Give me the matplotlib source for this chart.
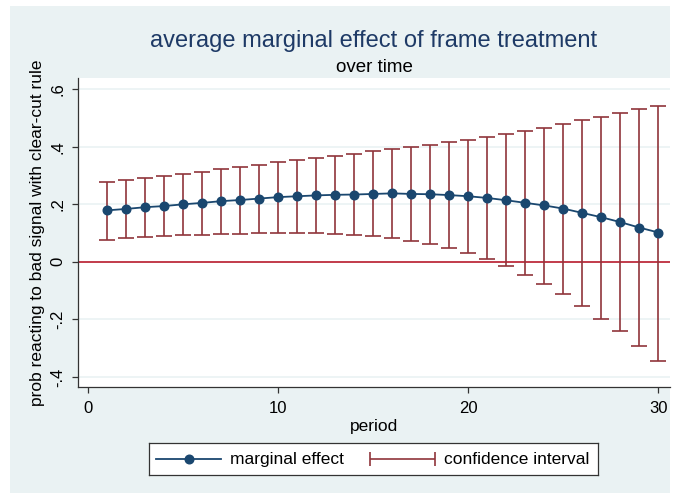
import numpy as np
import matplotlib
matplotlib.use("Agg")
import matplotlib.pyplot as plt
import matplotlib.patches as patches
from matplotlib.ticker import FuncFormatter

plt.rcParams['font.family'] = ['Liberation Sans', 'DejaVu Sans']

# data
period = list(range(1, 31))
effect = [0.179, 0.184, 0.190, 0.194, 0.200, 0.205, 0.211, 0.215, 0.220, 0.225,
          0.228, 0.231, 0.233, 0.234, 0.236, 0.238, 0.236, 0.235, 0.232, 0.228,
          0.222, 0.214, 0.205, 0.196, 0.185, 0.170, 0.155, 0.138, 0.119, 0.102]
ci_upper = [0.278, 0.286, 0.293, 0.299, 0.307, 0.314, 0.322, 0.330, 0.337, 0.346,
            0.355, 0.361, 0.369, 0.376, 0.385, 0.391, 0.400, 0.407, 0.416, 0.423,
            0.434, 0.444, 0.455, 0.466, 0.479, 0.492, 0.505, 0.519, 0.531, 0.543]
ci_lower = [0.077, 0.082, 0.085, 0.090, 0.092, 0.095, 0.097, 0.098, 0.100, 0.100,
            0.102, 0.100, 0.098, 0.095, 0.090, 0.082, 0.073, 0.062, 0.048, 0.031,
            0.009, -0.015, -0.044, -0.076, -0.111, -0.153, -0.197, -0.242, -0.293, -0.344]
xticks = [0, 10, 20, 30]
yticks = [-0.4, -0.2, 0, 0.2, 0.4, 0.6]

navy = '#1A476F'
maroon = '#90353B'
bluish = '#EAF2F3'

W, H = 675, 494
fig = plt.figure(figsize=(W / 100, H / 100), dpi=100)
fig.patch.set_facecolor('white')
fig.patches.append(patches.Rectangle((10 / W, 1 / H), 660 / W, 487 / H,
                                     transform=fig.transFigure, facecolor=bluish,
                                     edgecolor='none', zorder=-10))

ax = fig.add_axes([77.5 / W, 1 - 387 / H, (670 - 77.5) / W, (387 - 78) / H])
ax.set_facecolor('white')

period = np.array(period)
effect = np.array(effect)
lo = effect - np.array(ci_lower)
hi = np.array(ci_upper) - effect

ax.axhline(0, color='#C23B4B', lw=1.4, zorder=1)
ax.errorbar(period, effect, yerr=[lo, hi], fmt='none', ecolor=maroon,
            elinewidth=1.2, capsize=6, capthick=1.2, zorder=2)
ax.plot(period, effect, color=navy, lw=1.3, marker='o', markersize=6.2,
        markerfacecolor=navy, markeredgecolor=navy, zorder=3)

ax.set_xlim(-0.57, 30.61)
ax.set_ylim(-0.435, 0.639)
ax.set_xticks(xticks)
ax.set_yticks(yticks)

def fmt(v, pos):
    if abs(v) < 1e-9:
        return '0'
    s = ('%.1f' % v).replace('0.', '.')
    return s

ax.yaxis.set_major_formatter(FuncFormatter(fmt))
ax.grid(axis='y', color=bluish, lw=1.2, zorder=0)
ax.set_axisbelow(True)
for side in ['top', 'right']:
    ax.spines[side].set_visible(False)
for side in ['left', 'bottom']:
    ax.spines[side].set_color('#333333')
    ax.spines[side].set_linewidth(0.9)
ax.tick_params(axis='both', length=4, width=0.9, color='#333333', labelsize=12)
ax.tick_params(axis='x', pad=6)
ax.tick_params(axis='y', pad=5)
for lab in ax.get_yticklabels():
    lab.set_rotation(90)
    lab.set_va('center')

ax.set_xlabel('period', fontsize=12.5, labelpad=2)
ax.set_ylabel('prob reacting to bad signal with clear-cut rule', fontsize=12.5, labelpad=3.5)

fig.text(374 / W, 1 - 46.7 / H, 'average marginal effect of frame treatment',
         ha='center', va='baseline', fontsize=17, color='#1E3A66')
fig.text(374 / W, 1 - 71.7 / H, 'over time', ha='center', va='baseline',
         fontsize=13.5, color='black')

# legend box
lx0, lx1, ly0, ly1 = 149, 598, 443, 475
lax = fig.add_axes([lx0 / W, 1 - ly1 / H, (lx1 - lx0) / W, (ly1 - ly0) / H])
lax.set_xlim(lx0, lx1)
lax.set_ylim(ly1, ly0)
lax.set_xticks([])
lax.set_yticks([])
for s in lax.spines.values():
    s.set_color('#333333')
    s.set_linewidth(0.9)
ym = 459
lax.plot([156, 221], [ym, ym], color=navy, lw=1.3)
lax.plot([188.5], [ym], marker='o', color=navy, markersize=6.2)
lax.text(230, ym, 'marginal effect', va='center', ha='left', fontsize=12.5)
lax.errorbar([402.5], [ym], xerr=[[32.5], [32.5]], fmt='none', ecolor=maroon,
             elinewidth=1.2, capsize=5, capthick=1.2)
lax.text(444, ym, 'confidence interval', va='center', ha='left', fontsize=12.5)

fig.savefig('out.png', dpi=100, facecolor=fig.get_facecolor())
